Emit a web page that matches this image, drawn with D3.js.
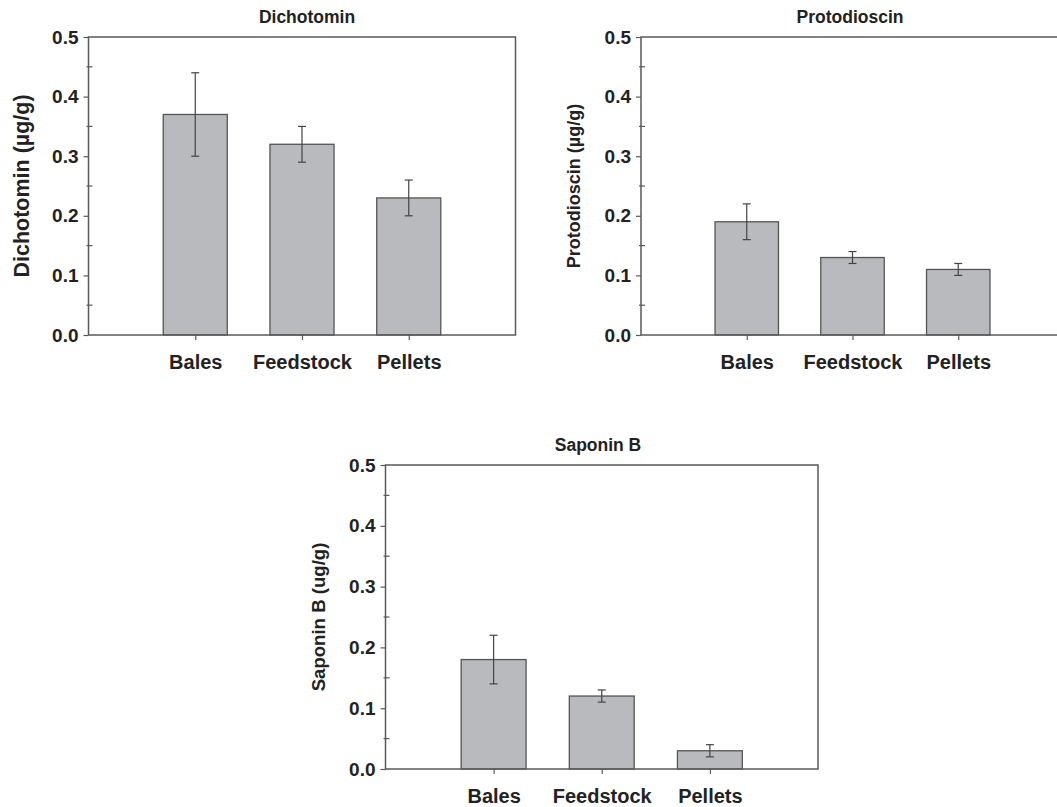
<!DOCTYPE html>
<html>
<head>
<meta charset="utf-8">
<script src="https://cdn.jsdelivr.net/npm/d3@7"></script>
<style>
  html, body { margin: 0; padding: 0; background: #fff; }
  svg { display: block; }
  text { font-family: "Liberation Sans", Arial, sans-serif; font-weight: bold; fill: #222; }
</style>
</head>
<body>
<svg id="chart" width="1057" height="807"></svg>
<script>
// ---- data ----
const categories = ["Bales", "Feedstock", "Pellets"];

const dichotominValues = [0.37, 0.32, 0.23];
const dichotominErrors = [0.07, 0.03, 0.03];

const protodioscinValues = [0.19, 0.13, 0.11];
const protodioscinErrors = [0.03, 0.01, 0.01];

const saponinValues = [0.18, 0.12, 0.03];
const saponinErrors = [0.04, 0.01, 0.01];

const yTickValues = [0, 0.1, 0.2, 0.3, 0.4, 0.5];
const yTickLabels = ["0.0", "0.1", "0.2", "0.3", "0.4", "0.5"];
const yMinorTicks = [0.05, 0.15, 0.25, 0.35, 0.45];

const titles = ["Dichotomin", "Protodioscin", "Saponin B"];
const yLabels = ["Dichotomin (µg/g)", "Protodioscin (µg/g)", "Saponin B (ug/g)"];

// ---- layout ----
const panels = [
  { title: titles[0], ylab: yLabels[0], values: dichotominValues, errors: dichotominErrors,
    left: 88.5, right: 515.5, top: 37, bottom: 335, ylabX: 22, ylabSize: 21.5, titleX: 307 },
  { title: titles[1], ylab: yLabels[1], values: protodioscinValues, errors: protodioscinErrors,
    left: 641, right: 1064, top: 37, bottom: 335, ylabX: 574, ylabSize: 18, titleX: 850 },
  { title: titles[2], ylab: yLabels[2], values: saponinValues, errors: saponinErrors,
    left: 385.5, right: 818, top: 465, bottom: 769, ylabX: 318, ylabSize: 18.6, titleX: 598 }
];

const svg = d3.select("#chart");
const stroke = "#5a5a5a";
const barFill = "#b9babe";
const fontFam = "Liberation Sans, Arial, sans-serif";

panels.forEach(p => {
  const g = svg.append("g");
  const x = d3.scaleLinear().domain([0, categories.length + 1]).range([p.left, p.right]);
  const y = d3.scaleLinear().domain([0, 0.5]).range([p.bottom, p.top]);
  const barW = x(0.6) - x(0);

  // bars
  g.selectAll("rect.bar").data(p.values).join("rect")
    .attr("class", "bar")
    .attr("x", (d, i) => x(i + 1) - barW / 2)
    .attr("y", d => y(d))
    .attr("width", barW)
    .attr("height", d => y(0) - y(d))
    .attr("fill", barFill)
    .attr("stroke", "#555")
    .attr("stroke-width", 1.3);

  // error bars
  const capW = 4;
  p.values.forEach((v, i) => {
    const cx = x(i + 1);
    const lo = y(v - p.errors[i]), hi = y(v + p.errors[i]);
    g.append("line").attr("x1", cx).attr("x2", cx).attr("y1", lo).attr("y2", hi)
      .attr("stroke", "#444").attr("stroke-width", 1.2);
    [lo, hi].forEach(yy => g.append("line")
      .attr("x1", cx - capW).attr("x2", cx + capW).attr("y1", yy).attr("y2", yy)
      .attr("stroke", "#444").attr("stroke-width", 1.2));
  });

  // frame
  g.append("rect")
    .attr("x", p.left).attr("y", p.top)
    .attr("width", p.right - p.left).attr("height", p.bottom - p.top)
    .attr("fill", "none").attr("stroke", stroke).attr("stroke-width", 1.5);

  // y axis (major ticks outward)
  const yAxis = d3.axisLeft(y).tickValues(yTickValues)
    .tickFormat((d, i) => yTickLabels[i]).tickSize(5).tickPadding(5);
  const ya = g.append("g").attr("transform", `translate(${p.left},0)`).call(yAxis);
  ya.select(".domain").remove();
  ya.selectAll(".tick line").attr("stroke", stroke).attr("stroke-width", 1.2);
  ya.selectAll(".tick text").style("font-size", "19px").attr("fill", "#222").attr("font-weight", "bold")
    .attr("font-family", fontFam);

  // minor ticks crossing axis
  g.selectAll("line.minor").data(yMinorTicks).join("line")
    .attr("class", "minor")
    .attr("x1", p.left - 2).attr("x2", p.left + 4)
    .attr("y1", d => y(d)).attr("y2", d => y(d))
    .attr("stroke", stroke).attr("stroke-width", 1.2);

  // x axis ticks + labels
  const xAxis = d3.axisBottom(x).tickValues(categories.map((c, i) => i + 1))
    .tickFormat((d) => categories[d - 1]).tickSize(5).tickPadding(15);
  const xa = g.append("g").attr("transform", `translate(0,${p.bottom})`).call(xAxis);
  xa.select(".domain").remove();
  xa.selectAll(".tick line").attr("stroke", stroke).attr("stroke-width", 1.2);
  xa.selectAll(".tick text").style("font-size", "20px").attr("fill", "#222").attr("font-weight", "bold")
    .attr("font-family", fontFam);

  // title
  g.append("text")
    .attr("x", p.titleX)
    .attr("y", p.top - 14)
    .attr("text-anchor", "middle")
    .style("font-size", "17.5px")
    .text(p.title);

  // y label
  g.append("text")
    .attr("transform", `translate(${p.ylabX},${(p.top + p.bottom) / 2}) rotate(-90)`)
    .attr("text-anchor", "middle")
    .attr("dominant-baseline", "central")
    .style("font-size", p.ylabSize + "px")
    .text(p.ylab);
});
</script>
</body>
</html>
